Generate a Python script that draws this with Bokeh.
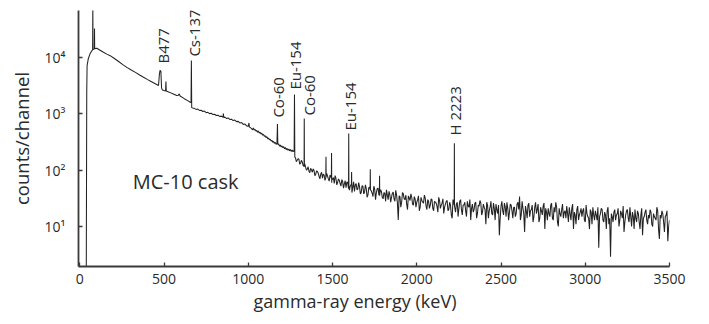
import math
from bokeh.plotting import figure
from bokeh.models import ColumnDataSource, Label, FixedTicker, Range1d, Title
from bokeh.core.properties import value
from bokeh.embed import file_html
from bokeh.resources import INLINE

# ---- data (keV, counts/channel) ----
# 38 - 682 keV: threshold, X-ray lines, B477, 511, Cs-137
low_energy = [38, 41, 43, 50, 60, 70, 75, 76, 77, 78, 85, 86, 87, 88, 101, 120, 140, 160, 180, 205,
              230, 255, 279, 305, 330, 355, 378, 400, 420, 445, 467, 472, 476, 481, 485, 490, 500, 509, 511, 513,
              530, 555, 575, 585, 590, 595, 620, 640, 655, 660, 662, 664, 670, 682]
low_counts = [1, 2500, 7200, 9500, 11500, 13000, 13600, 13700, 90000, 13900, 14200, 14300, 32700, 14400, 14600, 13500, 12400, 11500, 10800, 9600,
              8500, 7500, 6700, 6000, 5450, 4900, 4470, 4100, 3800, 3450, 3180, 5000, 5900, 5700, 2900, 2650, 2600, 2560, 3750, 2540,
              2430, 2250, 2110, 2150, 2260, 2080, 1860, 1720, 1610, 1590, 8840, 1290, 1270, 1240]

# 690 - 1010 keV
mid_energy = [690, 700, 710, 720, 730, 740, 750, 760, 770, 780, 790, 800, 810, 820, 830, 840, 850, 852, 854, 860,
              870, 880, 890, 900, 910, 920, 930, 940, 950, 960, 970, 980, 990, 1000, 1004, 1006, 1010]
mid_counts = [1200, 1215, 1150, 1160, 1100, 1120, 1050, 1065, 1010, 1025, 970, 985, 935, 945, 900, 912, 870, 1010, 865, 875,
              830, 845, 795, 805, 760, 775, 728, 735, 690, 700, 650, 660, 612, 605, 690, 585, 575]

# 1020 - 1276 keV: Co-60 1173, Eu-154 1274
high_energy = list(range(1020, 1171, 5)) + [1173] + list(range(1175, 1271, 5)) + [1272, 1274, 1276]
high_counts = [545, 520, 560, 515, 530, 498, 505, 470, 495, 455,
               470, 440, 452, 418, 432, 398, 410, 378, 395, 362,
               372, 345, 356, 328, 340, 312, 325, 300, 312, 288, 300,
               662,
               285, 292, 268, 280, 258, 270, 250, 262, 240, 252,
               232, 244, 226, 238, 220, 232, 216, 228, 212, 224,
               215, 2200, 170]

# noisy part: channels on a 10 keV grid (1280 ... 3500) and the channels in between (1285 ... 3495)
noisy_energy = list(range(1280, 3501, 10))
noisy_counts = [
    165, 150, 158, 132, 140, 118, 112, 104, 96, 108,
    92, 99, 84, 95, 78, 86, 72, 82, 74, 79,
    64, 76, 68, 58, 72, 61, 66, 52, 63, 57,
    49, 60, 44, 56, 50, 42, 58, 46, 51, 40,
    52, 41, 47, 36, 50, 43, 34, 46, 40, 48,
    35, 42, 31, 39, 45, 30, 37, 33, 41, 28,
    36, 13, 34, 27, 38, 30, 25, 35, 29, 33,
    24, 31, 27, 35, 22, 29, 26, 32, 20, 28,
    24, 30, 19, 27, 23, 33, 21, 26, 17, 25,
    29, 20, 24, 14, 26, 18, 27, 21, 30, 16,
    24, 19, 28, 22, 13, 25, 20, 27, 17, 23,
    26, 18, 22, 11, 24, 19, 28, 16, 21, 25,
    17, 7, 23, 19, 26, 15, 21, 18, 24, 14,
    22, 17, 27, 34, 16, 21, 8, 19, 24, 15,
    20, 12, 22, 17, 25, 14, 19, 23, 9, 18,
    21, 15, 26, 13, 18, 22, 10, 17, 20, 14,
    19, 23, 12, 17, 21, 9, 16, 20, 13, 18,
    15, 21, 12, 17, 14, 20, 11, 16, 19, 13,
    4.2, 17, 20, 12, 16, 19, 11, 2.9, 15, 18,
    13, 17, 10, 19, 14, 8, 16, 20, 12, 15,
    18, 9, 14, 19, 12, 16, 7, 15, 20, 11,
    14, 18, 10, 15, 13, 19, 6, 14, 17, 8,
    16, 5.5, 13]
between_energy = list(range(1285, 3500, 10))
between_counts = [
    142, 160, 128, 150, 122, 130, 100, 115, 90, 101,
    105, 80, 97, 88, 70, 92, 85, 66, 88, 70,
    82, 60, 74, 80, 55, 70, 58, 68, 48, 65,
    62, 47, 52, 40, 62, 55, 45, 60, 38, 53,
    38, 55, 33, 49, 44, 39, 52, 30, 47, 36,
    45, 33, 40, 28, 36, 42, 27, 39, 31, 44,
    26, 35, 22, 40, 31, 36, 20, 32, 38, 25,
    34, 22, 30, 19, 33, 27, 36, 23, 30, 21,
    31, 21, 28, 26, 18, 29, 24, 31, 22, 28,
    19, 27, 16, 30, 22, 25, 15, 28, 20, 24,
    27, 15, 23, 30, 21, 18, 26, 14, 24, 29,
    16, 25, 20, 27, 14, 22, 17, 26, 13, 20,
    24, 14, 28, 16, 22, 27, 13, 25, 19, 22,
    15, 25, 20, 13, 28, 17, 23, 14, 26, 19,
    24, 15, 27, 20, 12, 22, 16, 26, 21, 13,
    17, 24, 14, 22, 27, 12, 21, 15, 25, 18,
    14, 17, 22, 13, 25, 18, 11, 23, 16, 21,
    19, 13, 24, 15, 9, 18, 22, 13, 16, 22,
    15, 21, 13, 18, 9, 22, 14, 17, 12, 20,
    16, 21, 13, 17, 23, 12, 19, 14, 22, 10,
    15, 20, 12, 17, 9, 21, 14, 18, 13, 16,
    20, 11, 17, 14, 22, 9, 16, 19, 12, 15,
    19, 10]

# sharp lines in the noisy part (keV, peak top, continuum under the line)
line_energy = [1332, 1461, 1494, 1596, 1613, 1724, 1779, 2223]
line_top = [830, 173, 202, 447, 93, 104, 80, 300]
line_base = [115, 76, 72, 52, 54, 45, 38, 24]

# peak annotations
peak_labels = ["B477", "Cs-137", "Co-60", "Eu-154", "Co-60", "Eu-154", "H 2223"]
label_energy = [492, 676, 1177, 1275, 1358, 1601, 2224]
label_counts = [7826, 10400, 859, 2699, 934, 506, 412]

x_ticks = [0, 500, 1000, 1500, 2000, 2500, 3000, 3500]
y_ticks = [10, 100, 1000, 10000]
y_tick_labels = ["10\u00b9", "10\u00b2", "10\u00b3", "10\u2074"]

# ---- build the spectrum ----
pts = (list(zip(low_energy, low_counts)) + list(zip(mid_energy, mid_counts))
       + list(zip(high_energy, high_counts)) + list(zip(noisy_energy, noisy_counts))
       + list(zip(between_energy, between_counts)))
for e, t, b in zip(line_energy, line_top, line_base):
    pts += [(e - 1, b), (e, t), (e + 1, b)]
pts.sort()
src = ColumnDataSource(dict(e=[q[0] for q in pts], c=[q[1] for q in pts]))

FONT = "Open Sans"
TXT = "#2a2a2a"

p = figure(width=709, height=324, output_backend="svg", toolbar_location=None,
           y_axis_type="log", x_range=Range1d(-8, 3500), y_range=Range1d(1.95, 68400),
           min_border_left=78, min_border_right=40, min_border_top=10, min_border_bottom=58)
p.outline_line_color = None
p.xgrid.visible = False
p.ygrid.visible = False
p.background_fill_color = "white"
p.border_fill_color = "white"

p.line("e", "c", source=src, line_color="#222222", line_width=1.05)

# axes
for ax in (p.xaxis[0], p.yaxis[0]):
    ax.axis_line_color = "#3a3a3a"
    ax.axis_line_width = 1.8
    ax.major_tick_line_color = "#3a3a3a"
    ax.major_tick_line_width = 1.3
    ax.major_tick_in = 4
    ax.major_tick_out = 0
    ax.minor_tick_line_color = None
    ax.major_label_text_font = FONT
    ax.major_label_text_font_size = "14px"
    ax.major_label_text_color = TXT
p.xaxis.ticker = FixedTicker(ticks=x_ticks)
p.xaxis.major_label_standoff = 7
p.yaxis.ticker = FixedTicker(ticks=y_ticks)
p.yaxis.major_label_overrides = {t: s for t, s in zip(y_ticks, y_tick_labels)}
p.yaxis.major_label_standoff = 13
p.yaxis.major_label_text_baseline = "top"
p.yaxis.axis_label = "counts/channel"
p.yaxis.axis_label_text_font = FONT
p.yaxis.axis_label_text_font_size = "18.5px"
p.yaxis.axis_label_text_font_style = "normal"
p.yaxis.axis_label_text_color = TXT
p.yaxis.axis_label_standoff = 8

# x axis title, placed below the axis and shifted like the original
p.add_layout(Title(text="gamma-ray energy (keV)", align="left", offset=175, standoff=0,
                   text_font=FONT, text_font_size="18px", text_font_style="normal",
                   text_color=TXT), "below")

# in-plot caption
p.add_layout(Label(x=314, y=63, text="MC-10 cask", text_align="left", text_baseline="middle",
                   text_font=FONT, text_font_size="20px", text_color=TXT))

# peak labels
lab_src = ColumnDataSource(dict(x=label_energy, y=label_counts, t=peak_labels))
p.text("x", "y", text="t", source=lab_src, angle=math.pi / 2, text_align="left",
       text_baseline="middle", text_font=value(FONT), text_font_size="15px", text_color=TXT)

open("out.html", "w").write(file_html(p, INLINE))
